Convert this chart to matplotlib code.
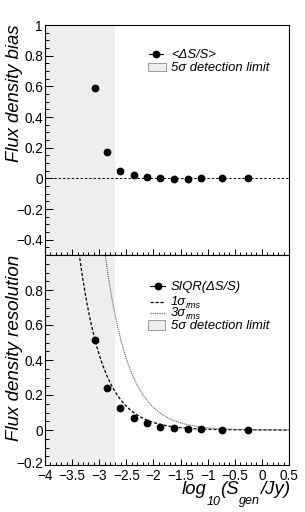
import numpy as np
import matplotlib
matplotlib.use("Agg")
import matplotlib.pyplot as plt
import matplotlib.transforms as mtransforms
from matplotlib.lines import Line2D
from matplotlib.patches import Rectangle

FONT = "Liberation Sans"
plt.rcParams['font.family'] = [FONT, 'DejaVu Sans']

# ---------------- data ----------------
log_s_gen = [-3.08, -2.85, -2.61, -2.36, -2.12, -1.87, -1.62, -1.37, -1.12, -0.74, -0.25]
bias = [0.59, 0.175, 0.05, 0.02, 0.006, 0.0, -0.002, -0.002, 0.0, 0.0, 0.0]
resolution = [0.514, 0.238, 0.127, 0.067, 0.038, 0.02, 0.012, 0.007, 0.004, 0.002, 0.001]
sigma_rms = 4.3e-4          # Jy, noise level of the reference curves
curve_nsigma = [1, 3]
det_limit_log = -2.7        # 5 sigma detection limit, log10(S/Jy)

xticks = [-4, -3.5, -3, -2.5, -2, -1.5, -1, -0.5, 0, 0.5]
xticklabels = ["\u22124", "\u22123.5", "\u22123", "\u22122.5", "\u22122", "\u22121.5", "\u22121", "\u22120.5", "0", "0.5"]
top_yticks = [-0.4, -0.2, 0, 0.2, 0.4, 0.6, 0.8, 1.0]
top_yticklabels = ["\u22120.4", "\u22120.2", "0", "0.2", "0.4", "0.6", "0.8", "1"]
bot_yticks = [-0.2, 0, 0.2, 0.4, 0.6, 0.8]
bot_yticklabels = ["\u22120.2", "0", "0.2", "0.4", "0.6", "0.8"]

W, H = 305, 512
fig = plt.figure(figsize=(W / 100, H / 100), dpi=100)

L, R = 45, 289
def axes_px(top, bottom):
    return [L / W, 1 - bottom / H, (R - L) / W, (bottom - top) / H]

ax1 = fig.add_axes(axes_px(25, 255))
ax2 = fig.add_axes(axes_px(255, 465))

GRAY = "#eeeeee"
for ax in (ax1, ax2):
    ax.set_xlim(-4, 0.5)
    ax.axvspan(-4, det_limit_log, color=GRAY, lw=0, zorder=0)
    for sp in ax.spines.values():
        sp.set_linewidth(0.8)
    ax.set_xticks(xticks)
    ax.set_xticks(np.arange(-4, 0.51, 0.1), minor=True)
    ax.tick_params(axis='both', which='both', direction='in', top=False, right=False,
                   width=0.7, labelsize=9.8, pad=1.5)
    ax.tick_params(axis='x', which='major', length=4.3, pad=2.6)
    ax.tick_params(axis='x', which='minor', length=2.2)
    ax.tick_params(axis='y', which='major', length=5.8)
    ax.tick_params(axis='y', which='minor', length=2.9)

# ---------------- top panel ----------------
ax1.set_ylim(-0.5, 1.0)
ax1.set_yticks(top_yticks)
ax1.set_yticklabels(top_yticklabels)
ax1.set_yticks(np.arange(-0.5, 1.001, 0.05), minor=True)
ax1.tick_params(axis='x', labelbottom=False)
ax1.axhline(0, color='black', lw=0.7, ls=(0, (2.5, 2)), zorder=1)
ax1.plot(log_s_gen, bias, 'o', color='black', ms=4.6, zorder=3)

# ---------------- bottom panel ----------------
ax2.set_ylim(-0.2, 1.0)
ax2.set_yticks(bot_yticks)
ax2.set_yticklabels(bot_yticklabels)
ax2.set_yticks(np.arange(-0.2, 1.001, 0.05), minor=True)
ax2.set_xticklabels(xticklabels)
# lift the lowest y label slightly so it clears the "-4" x label
lbl0 = ax2.get_yticklabels()[0]
lbl0.set_transform(lbl0.get_transform() + mtransforms.ScaledTranslation(0, 2.5 / 100, fig.dpi_scale_trans))

xc = np.linspace(-4, 0.5, 600)
DOT_COLOR = '#666666'
ax2.plot(xc, curve_nsigma[0] * sigma_rms / 10 ** xc, color='black', lw=0.9, ls=(0, (2.5, 1.5)), zorder=2)
ax2.plot(xc, curve_nsigma[1] * sigma_rms / 10 ** xc, color=DOT_COLOR, lw=0.8, ls=(0, (1, 0.8)), zorder=2)
ax2.plot(log_s_gen, resolution, 'o', color='black', ms=4.6, zorder=3)

# ---------------- text helpers ----------------
fig.canvas.draw()
rend = fig.canvas.get_renderer()

def rich(x, y, pieces, ha='left'):
    """pieces: (text, size, dy_px, dx_px); x,y in pixels from top-left (baseline)."""
    items = []
    for s, size, dy, dx in pieces:
        t = fig.text(0, 0, s, fontsize=size, style='italic', family=[FONT, 'DejaVu Sans'],
                     va='baseline', ha='left')
        w = t.get_window_extent(rend).width
        items.append((t, dy, dx, w))
    total = sum(w + dx for _, _, dx, w in items)
    cur = x - total if ha == 'right' else x
    for t, dy, dx, w in items:
        cur += dx
        t.set_position((cur / W, 1 - (y + dy) / H))
        cur += w

# y-axis titles
ax1.text((15 - L) / (R - L), 1.0, "Flux density bias", transform=ax1.transAxes, rotation=90,
         ha='center', va='top', fontsize=13.3, style='italic')
ax2.text((15 - L) / (R - L), 1.0, "Flux density resolution", transform=ax2.transAxes, rotation=90,
         ha='center', va='top', fontsize=13.5, style='italic')

# x-axis title
rich(290, 494, [("log", 13.4, 0, 0), ("10", 9, 11, 0), ("(S", 13.4, 0, 0),
                ("gen", 9, 10, 0), ("/Jy)", 13.4, 0, 0)], ha='right')

# ---------------- legends ----------------
def leg_line(x0, x1, y, **kw):
    fig.add_artist(Line2D([x0 / W, x1 / W], [1 - y / H, 1 - y / H], **kw))

def leg_box(x0, x1, y0, y1):
    fig.add_artist(Rectangle((x0 / W, 1 - y1 / H), (x1 - x0) / W, (y1 - y0) / H,
                             facecolor=GRAY, edgecolor='#999999', lw=0.7))

LS = 9.4
# top legend
leg_line(149, 163, 54, color='black', lw=0.8)
fig.add_artist(Line2D([156 / W], [1 - 54 / H], marker='o', color='black', ms=4.6, ls='none'))
rich(171, 58, [("<\u0394S/S>", LS, 0, 0)])
leg_box(148, 166, 63, 71)
rich(171, 71, [("5\u03c3 detection limit", LS, 0, 0)])

# bottom legend
leg_line(150, 165, 286, color='black', lw=0.8)
fig.add_artist(Line2D([158 / W], [1 - 286 / H], marker='o', color='black', ms=4.6, ls='none'))
rich(171, 290, [("SIQR(\u0394S/S)", LS, 0, 0)])
leg_line(150, 165, 302, color='black', lw=0.9, ls=(0, (2.5, 1.5)))
rich(171, 305, [("1\u03c3", LS, 0, 0), ("rms", 6.5, 3, 0)])
leg_line(150, 165, 313, color=DOT_COLOR, lw=0.9, ls=(0, (1, 0.8)))
rich(171, 316, [("3\u03c3", LS, 0, 0), ("rms", 6.5, 3, 0)])
leg_box(148, 165, 320, 330)
rich(171, 329, [("5\u03c3 detection limit", LS, 0, 0)])

fig.savefig("out.png", dpi=100)
